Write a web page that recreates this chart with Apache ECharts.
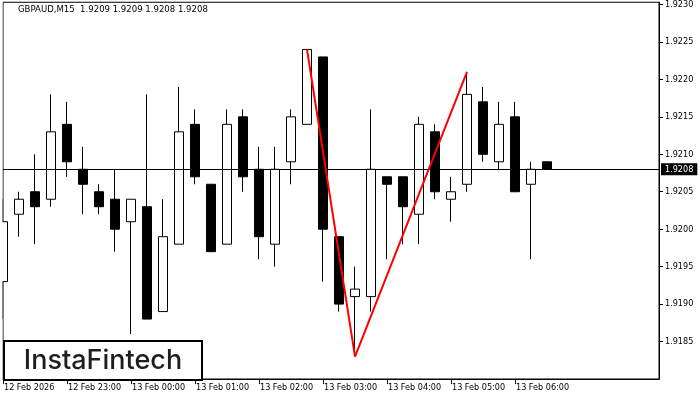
<!DOCTYPE html>
<html>
<head>
<meta charset="utf-8">
<style>
    html, body { margin: 0; padding: 0; background: #fff; }
    #chart { width: 700px; height: 400px; }
</style>
<script src="https://cdn.jsdelivr.net/npm/echarts@6/dist/echarts.min.js"></script>
</head>
<body>
<div id="chart"></div>
<script>
// 15 minute bars, GBPAUD
const times = [
    '12 Feb 22:00', '12 Feb 22:15', '12 Feb 22:30', '12 Feb 22:45',
    '12 Feb 23:00', '12 Feb 23:15', '12 Feb 23:30', '12 Feb 23:45',
    '13 Feb 00:00', '13 Feb 00:15', '13 Feb 00:30', '13 Feb 00:45',
    '13 Feb 01:00', '13 Feb 01:15', '13 Feb 01:30', '13 Feb 01:45',
    '13 Feb 02:00', '13 Feb 02:15', '13 Feb 02:30', '13 Feb 02:45',
    '13 Feb 03:00', '13 Feb 03:15', '13 Feb 03:30', '13 Feb 03:45',
    '13 Feb 04:00', '13 Feb 04:15', '13 Feb 04:30', '13 Feb 04:45',
    '13 Feb 05:00', '13 Feb 05:15', '13 Feb 05:30', '13 Feb 05:45',
    '13 Feb 06:00', '13 Feb 06:15', '13 Feb 06:30'
];
// empty slots on the right of the last bar
const futureSlots = ['13 Feb 06:45', '13 Feb 07:00', '13 Feb 07:15', '13 Feb 07:30',
    '13 Feb 07:45', '13 Feb 08:00', '13 Feb 08:15'];

const opens = [1.9193, 1.9202, 1.9205, 1.9204, 1.9214, 1.9208, 1.9205, 1.9204, 1.9201, 1.9203,
    1.9189, 1.9198, 1.9214, 1.9206, 1.9198, 1.9215, 1.9208, 1.9198, 1.9209, 1.9214,
    1.9223, 1.9199, 1.9191, 1.9191, 1.9207, 1.9207, 1.9202, 1.9213, 1.9204, 1.9206,
    1.9217, 1.9209, 1.9215, 1.9206, 1.9209];
const closes = [1.9201, 1.9204, 1.9203, 1.9213, 1.9209, 1.9206, 1.9203, 1.9200, 1.9204, 1.9188,
    1.9199, 1.9213, 1.9207, 1.9197, 1.9214, 1.9207, 1.9199, 1.9208, 1.9215, 1.9224,
    1.9200, 1.9190, 1.9192, 1.9208, 1.9206, 1.9203, 1.9214, 1.9205, 1.9205, 1.9218,
    1.9210, 1.9214, 1.9205, 1.9208, 1.9208];
const lows = [1.9188, 1.9199, 1.9198, 1.9203, 1.9207, 1.9202, 1.9202, 1.9197, 1.9186, 1.9188,
    1.9189, 1.9198, 1.9206, 1.9197, 1.9198, 1.9205, 1.9196, 1.9195, 1.9206, 1.9214,
    1.9193, 1.9189, 1.9183, 1.9189, 1.9196, 1.9198, 1.9198, 1.9204, 1.9201, 1.9205,
    1.9209, 1.9208, 1.9205, 1.9196, 1.9208];
const highs = [1.9204, 1.9205, 1.9210, 1.9218, 1.9217, 1.9211, 1.9206, 1.9208, 1.9204, 1.9218,
    1.9204, 1.9219, 1.9216, 1.9206, 1.9216, 1.9216, 1.9211, 1.9211, 1.9216, 1.9224,
    1.9223, 1.9199, 1.9195, 1.9216, 1.9207, 1.9207, 1.9215, 1.9214, 1.9207, 1.9221,
    1.9219, 1.9217, 1.9217, 1.9209, 1.9209];

// double bottom pattern (bar index, price)
const patternBars = [19, 22, 29];
const patternPrices = [1.9224, 1.9183, 1.9221];

const lastPrice = 1.9208;

const hourTicks = [0, 4, 8, 12, 16, 20, 24, 28, 32];
const tickLabels = ['12 Feb 2026', '12 Feb 23:00', '13 Feb 00:00', '13 Feb 01:00', '13 Feb 02:00',
    '13 Feb 03:00', '13 Feb 04:00', '13 Feb 05:00', '13 Feb 06:00'];

const candles = opens.map((o, i) => [o, closes[i], lows[i], highs[i]]);
const pattern = patternBars.map((b, i) => [b, patternPrices[i]]);

const font = "'DejaVu Sans Condensed', 'DejaVu Sans'";
const isHourTick = (idx) => hourTicks.indexOf(idx) >= 0;

var chart = echarts.init(document.getElementById('chart'));
const option = {
    animation: false,
    title: {
        text: 'GBPAUD,M15  1.9209 1.9209 1.9208 1.9208',
        left: 18,
        top: 5,
        padding: 0,
        textStyle: { fontFamily: font, fontSize: 9.5, fontWeight: 'normal', color: '#000' }
    },
    grid: {
        left: 3,
        right: 41,
        top: 2,
        bottom: 21,
        show: true,
        borderColor: '#000',
        borderWidth: 1,
        backgroundColor: '#fff'
    },
    xAxis: {
        type: 'category',
        boundaryGap: false,
        data: times.concat(futureSlots),
        axisLine: { lineStyle: { color: '#000', width: 1 } },
        axisTick: { interval: isHourTick, length: 5, lineStyle: { color: '#000' } },
        axisLabel: {
            interval: isHourTick,
            formatter: function (val, idx) {
                const k = hourTicks.indexOf(idx);
                return k >= 0 ? tickLabels[k] : '';
            },
            align: 'left',
            margin: 4,
            padding: [0, 0, 0, 1],
            fontFamily: font,
            fontSize: 9,
            color: '#000'
        },
        splitLine: { show: false }
    },
    yAxis: {
        type: 'value',
        position: 'right',
        min: 1.9180,
        max: 1.92303,
        interval: 0.0005,
        axisLine: { show: true, lineStyle: { color: '#000', width: 1 } },
        axisTick: { show: true, length: 4, lineStyle: { color: '#000' } },
        axisLabel: {
            showMinLabel: false,
            showMaxLabel: false,
            formatter: (v) => v.toFixed(4),
            margin: 6,
            fontFamily: font,
            fontSize: 9,
            color: '#000'
        },
        splitLine: { show: false }
    },
    series: [
        {
            type: 'candlestick',
            data: candles,
            barWidth: 10,
            clip: true,
            itemStyle: {
                color: '#fff',
                color0: '#000',
                borderColor: '#000',
                borderColor0: '#000',
                borderWidth: 1
            }
        },
        {
            type: 'line',
            data: pattern,
            symbol: 'none',
            z: 5,
            lineStyle: { color: '#ff0000', width: 2 },
            // current price line
            markLine: {
                silent: true,
                symbol: 'none',
                precision: 4,
                lineStyle: { color: '#000', width: 1, type: 'solid' },
                label: {
                    position: 'end',
                    distance: 2,
                    formatter: lastPrice.toFixed(4),
                    color: '#fff',
                    backgroundColor: '#000',
                    padding: [2, 4, 1, 4],
                    fontFamily: font,
                    fontSize: 9
                },
                data: [{ yAxis: lastPrice }]
            }
        }
    ],
    graphic: [
        {
            // hide the part of the first bar left of the plot
            type: 'rect',
            left: 0,
            top: 0,
            z: 100,
            shape: { x: 0, y: 0, width: 2.5, height: 400 },
            style: { fill: '#fff' }
        },
        {
            type: 'group',
            left: 3,
            top: 340,
            z: 100,
            children: [
                {
                    type: 'rect',
                    shape: { x: 0, y: 0, width: 198, height: 39 },
                    style: { fill: '#fff', stroke: '#000', lineWidth: 2 }
                },
                {
                    type: 'text',
                    x: 99,
                    y: 20,
                    style: {
                        text: 'InstaFintech',
                        fontFamily: 'Inter',
                        fontSize: 27,
                        fontWeight: 500,
                        fill: '#1e1e1e',
                        align: 'center',
                        verticalAlign: 'middle'
                    }
                }
            ]
        }
    ]
};
chart.setOption(option);
window.addEventListener('resize', function () {
    chart.resize();
});
</script>
</body>
</html>
